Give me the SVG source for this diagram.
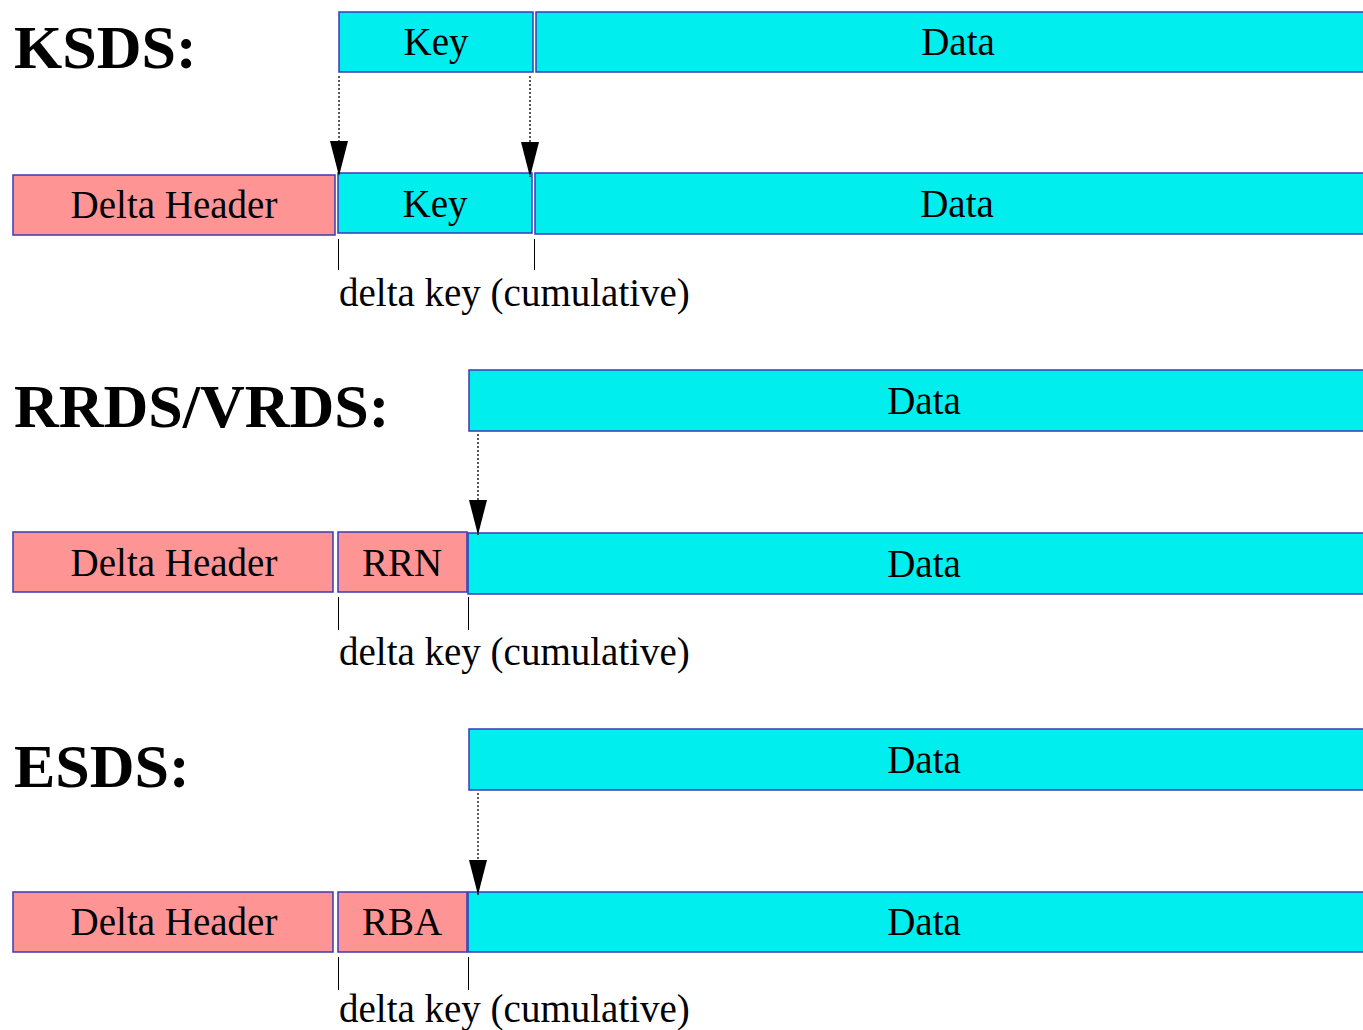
<svg xmlns="http://www.w3.org/2000/svg" width="1363" height="1030" viewBox="0 0 1363 1030">
<style>
.c{fill:#00eeee;stroke:#3a3ab8;stroke-width:1.5}
.p{fill:#ff9494;stroke:#3a3ab8;stroke-width:1.5}
.t{font-family:"Liberation Serif","Times New Roman",serif;font-size:39px;fill:#000;text-anchor:middle}
.l{font-family:"Liberation Serif","Times New Roman",serif;font-size:39px;fill:#000}
.h{font-family:"Liberation Serif","Times New Roman",serif;font-size:62px;font-weight:bold;fill:#000}
.d{stroke:#000;stroke-width:1.3;stroke-dasharray:2 2;fill:none}
.k{stroke:#000;stroke-width:1;fill:none}
</style>
<defs>
<marker id="ah" markerUnits="userSpaceOnUse" markerWidth="36" markerHeight="20" refX="35" refY="9" orient="auto" viewBox="0 0 36 18">
<path d="M0,0 L35,9 L0,18 Z" fill="#000"/>
</marker>
</defs>
<rect width="1363" height="1030" fill="#fff"/>
<g id="title-ksds"><text class="h" x="14" y="68">KSDS:</text></g>
<g id="title-rrds"><text class="h" x="14" y="427">RRDS/VRDS:</text></g>
<g id="title-esds"><text class="h" x="14" y="787">ESDS:</text></g>

<g id="ksds-key-top"><rect class="c" x="339" y="12" width="194" height="60"/><text class="t" x="436" y="55">Key</text></g>
<g id="ksds-data-top"><rect class="c" x="536" y="12" width="850" height="60"/><text class="t" x="958" y="55">Data</text></g>
<g id="ksds-header"><rect class="p" x="13" y="175" width="322" height="60"/><text class="t" x="174" y="218">Delta Header</text></g>
<g id="ksds-key"><rect class="c" x="338" y="173" width="194" height="60"/><text class="t" x="435" y="217">Key</text></g>
<g id="ksds-data"><rect class="c" x="535" y="173" width="850" height="61"/><text class="t" x="957" y="217">Data</text></g>
<g id="ksds-label"><text class="l" x="339" y="306">delta key (cumulative)</text></g>

<g id="rrds-data-top"><rect class="c" x="469" y="370" width="920" height="61"/><text class="t" x="924" y="414">Data</text></g>
<g id="rrds-header"><rect class="p" x="13" y="532" width="320" height="60"/><text class="t" x="174" y="576">Delta Header</text></g>
<g id="rrds-rrn"><rect class="p" x="338" y="532" width="129" height="60"/><text class="t" x="402" y="576">RRN</text></g>
<g id="rrds-data"><rect class="c" x="468" y="533" width="920" height="61"/><text class="t" x="924" y="577">Data</text></g>
<g id="rrds-label"><text class="l" x="339" y="665">delta key (cumulative)</text></g>

<g id="esds-data-top"><rect class="c" x="469" y="729" width="920" height="61"/><text class="t" x="924" y="773">Data</text></g>
<g id="esds-header"><rect class="p" x="13" y="892" width="320" height="60"/><text class="t" x="174" y="935">Delta Header</text></g>
<g id="esds-rba"><rect class="p" x="338" y="892" width="129" height="60"/><text class="t" x="402" y="935">RBA</text></g>
<g id="esds-data"><rect class="c" x="468" y="892" width="920" height="60"/><text class="t" x="924" y="935">Data</text></g>
<g id="esds-label"><text class="l" x="339" y="1022">delta key (cumulative)</text></g>

<g id="connectors">
<line class="d" x1="339" y1="76" x2="339" y2="176" marker-end="url(#ah)"/>
<line class="d" x1="530" y1="76" x2="530" y2="177" marker-end="url(#ah)"/>
<line class="d" x1="478" y1="434" x2="478" y2="535" marker-end="url(#ah)"/>
<line class="d" x1="478" y1="793" x2="478" y2="895" marker-end="url(#ah)"/>
<line class="k" x1="338.5" y1="239" x2="338.5" y2="270"/>
<line class="k" x1="534.5" y1="239" x2="534.5" y2="270"/>
<line class="k" x1="338.5" y1="597" x2="338.5" y2="630"/>
<line class="k" x1="468.5" y1="597" x2="468.5" y2="630"/>
<line class="k" x1="338.5" y1="957" x2="338.5" y2="990"/>
<line class="k" x1="468.5" y1="957" x2="468.5" y2="990"/>
</g>
</svg>
